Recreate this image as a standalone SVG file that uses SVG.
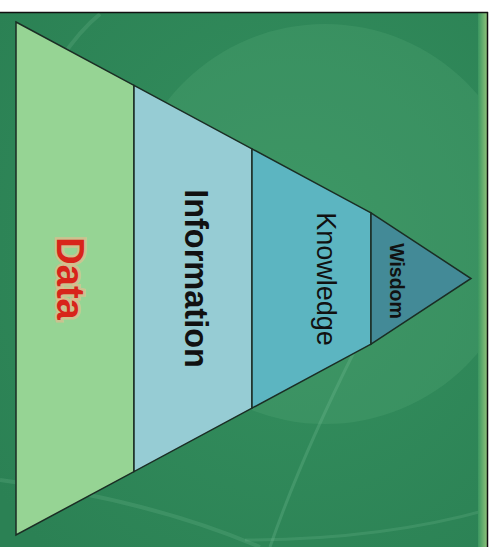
<svg xmlns="http://www.w3.org/2000/svg" width="495" height="547" viewBox="0 0 495 547">
  <defs>
    <radialGradient id="bg" cx="0.6" cy="0.45" r="0.75">
      <stop offset="0" stop-color="#35905f"/>
      <stop offset="1" stop-color="#2b8154"/>
    </radialGradient>
    <linearGradient id="edge" x1="0" y1="0" x2="1" y2="0">
      <stop offset="0" stop-color="#3a9660"/>
      <stop offset="1" stop-color="#8cc27a"/>
    </linearGradient>
    <clipPath id="frame">
      <rect x="0" y="12" width="487" height="535"/>
    </clipPath>
  </defs>
  <style>
    .seg { stroke: #1b2d24; stroke-width: 1.5; stroke-linejoin: miter; }
    .lbl { font-family: "Liberation Sans", Arial, sans-serif; text-anchor: middle; }
    .glow { stroke: #7cc49a; fill: none; }
  </style>

  <!-- background -->
  <rect x="0" y="0" width="495" height="547" fill="#ffffff"/>
  <g id="background" clip-path="url(#frame)">
    <rect x="0" y="12" width="487" height="535" fill="url(#bg)"/>
    <circle cx="325" cy="224" r="200" fill="#5fb07e" fill-opacity="0.22"/>
    <path class="glow" d="M 355 350 Q 300 460 270 547" stroke-opacity="0.25" stroke-width="3"/>
    <path class="glow" d="M 0 480 Q 150 500 260 547" stroke-opacity="0.2" stroke-width="4"/>
    <path class="glow" d="M 245 540 Q 380 540 487 510" stroke-opacity="0.2" stroke-width="3"/>
    <path class="glow" d="M 60 60 Q 80 30 100 14" stroke-opacity="0.2" stroke-width="4"/>
    <rect x="478" y="12" width="9" height="535" fill="url(#edge)"/>
  </g>
  <line x1="0" y1="12.5" x2="488" y2="12.5" stroke="#111" stroke-width="1.5"/>
  <line x1="487.5" y1="12" x2="487.5" y2="547" stroke="#111" stroke-width="1.5"/>

  <!-- pyramid layers -->
  <g id="data">
    <polygon class="seg" points="16,22 134,85.4 134,471.6 16,535" fill="#96d494"/>
    <text class="lbl" transform="translate(57,278.5) rotate(90)" font-size="38" font-weight="bold" fill="none" stroke="#f2b48c" stroke-opacity="0.6" stroke-width="5">Data</text>
    <text class="lbl" transform="translate(57,278.5) rotate(90)" font-size="38" font-weight="bold" fill="#d8241a">Data</text>
  </g>
  <g id="information">
    <polygon class="seg" points="134,85.4 252,148.9 252,408.1 134,471.6" fill="#96ccd4"/>
    <text class="lbl" transform="translate(185,278.5) rotate(90)" font-size="32.5" font-weight="bold" fill="#111">Information</text>
  </g>
  <g id="knowledge">
    <polygon class="seg" points="252,148.9 371,212.9 371,344.1 252,408.1" fill="#5cb5c1"/>
    <text class="lbl" transform="translate(317,279) rotate(90)" font-size="27" fill="#111">Knowledge</text>
  </g>
  <g id="wisdom">
    <polygon class="seg" points="371,212.9 471,278.5 371,344.1" fill="#438a97"/>
    <text class="lbl" transform="translate(390,281) rotate(90)" font-size="19.5" font-weight="bold" fill="#111">Wisdom</text>
  </g>
</svg>
